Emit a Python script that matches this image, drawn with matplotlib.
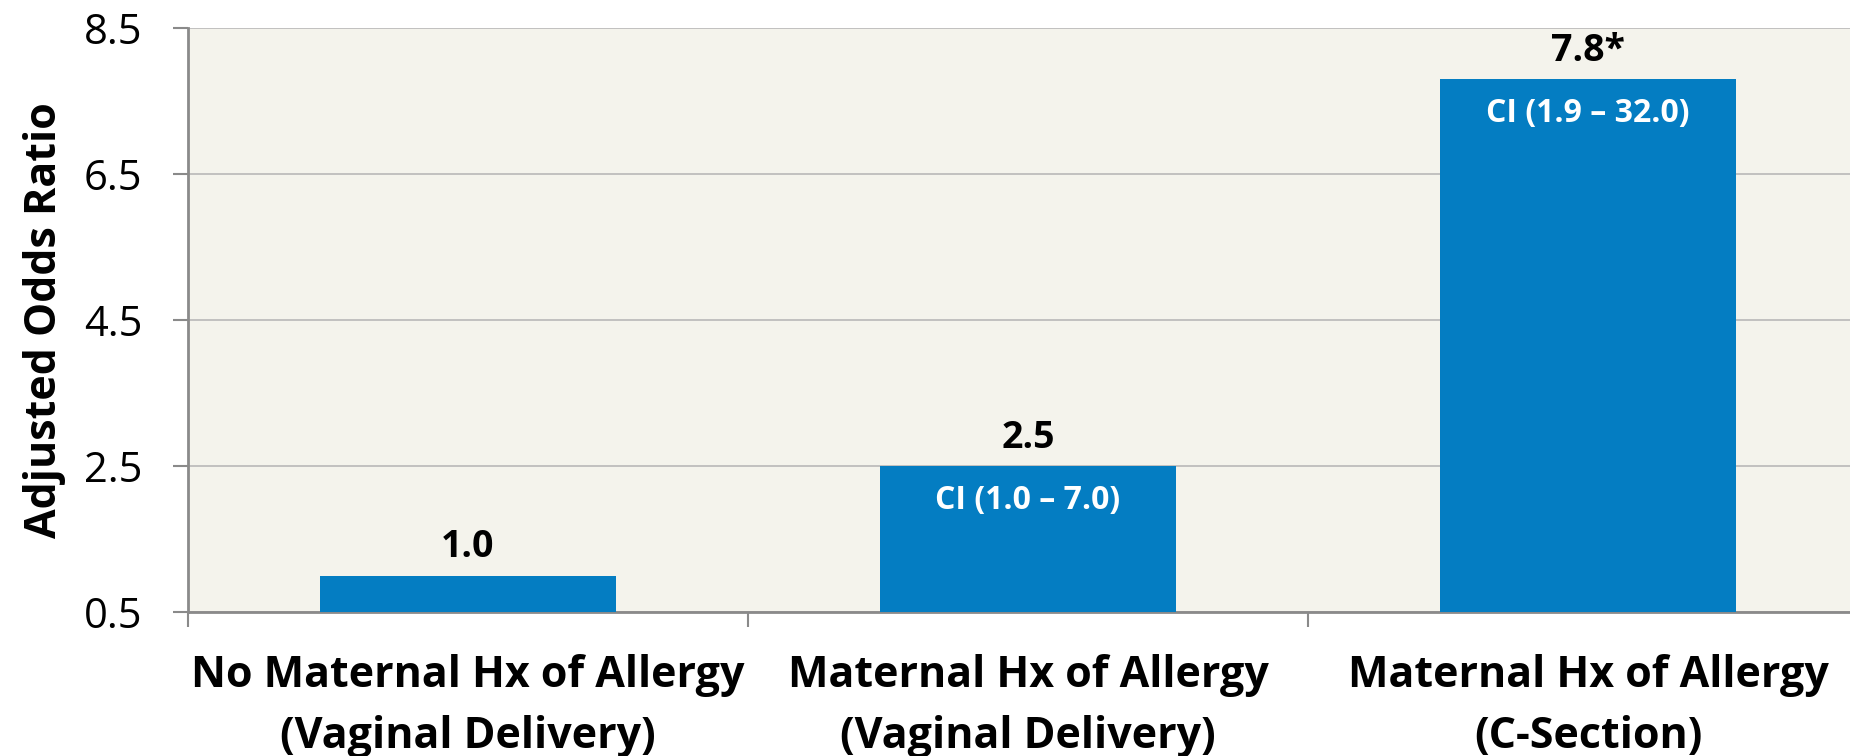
import matplotlib
matplotlib.use('Agg')
import matplotlib.pyplot as plt

plt.rcParams['font.family'] = ['Open Sans', 'DejaVu Sans']

categories = ['No Maternal Hx of Allergy\n(Vaginal Delivery)',
              'Maternal Hx of Allergy\n(Vaginal Delivery)',
              'Maternal Hx of Allergy\n(C-Section)']
odds_ratios = [1.0, 2.5, 7.8]
value_labels = ['1.0', '2.5', '7.8*']
ci_labels = ['', 'CI (1.0 – 7.0)', 'CI (1.9 – 32.0)']
y_ticks = [0.5, 2.5, 4.5, 6.5, 8.5]

bar_color = '#047dc2'
bg_color = '#f4f3ec'

fig = plt.figure(figsize=(18.5, 7.56), dpi=100)
# axes runs a bit past the right edge of the figure, like the original
ax = fig.add_axes([188 / 1850, (756 - 612) / 756, 1680 / 1850, 584 / 756])
ax.set_facecolor(bg_color)

x = list(range(len(categories)))
ax.bar(x, odds_ratios, width=0.53, color=bar_color, zorder=3)

ax.set_xlim(-0.5, 2.5)
ax.set_ylim(0.5, 8.5)
ax.set_yticks(y_ticks)
ax.set_yticklabels([f'{t:.1f}' for t in y_ticks])
ax.yaxis.grid(True, color='#b8b8b8', linewidth=1.2, zorder=0)

# labels on major ticks, tick marks on the category boundaries
ax.set_xticks(x)
ax.set_xticklabels(categories, fontsize=31, fontweight='bold', linespacing=1.55)
ax.set_xticks([-0.5, 0.5, 1.5], minor=True)
ax.tick_params(axis='x', which='major', length=0, pad=30)
ax.tick_params(axis='x', which='minor', length=11, width=1.5, color='#8a8a8a', direction='out')
ax.tick_params(axis='y', length=11, width=1.5, color='#8a8a8a', pad=22, labelsize=30)

for side in ['top', 'right']:
    ax.spines[side].set_visible(False)
for side in ['left', 'bottom']:
    ax.spines[side].set_color('#8a8a8a')
    ax.spines[side].set_linewidth(2)

ax.set_ylabel('Adjusted Odds Ratio', fontsize=31, fontweight='bold', labelpad=13)

for xi, val, lab, ci in zip(x, odds_ratios, value_labels, ci_labels):
    ax.annotate(lab, (xi, val), xytext=(0, 13), textcoords='offset points',
                ha='center', va='baseline', fontsize=27, fontweight='bold', color='black')
    if ci:
        ax.annotate(ci, (xi, val), xytext=(0, -31), textcoords='offset points',
                    ha='center', va='baseline', fontsize=23, fontweight='bold', color='white', zorder=4)

fig.savefig('out.png', dpi=100, facecolor='white')
